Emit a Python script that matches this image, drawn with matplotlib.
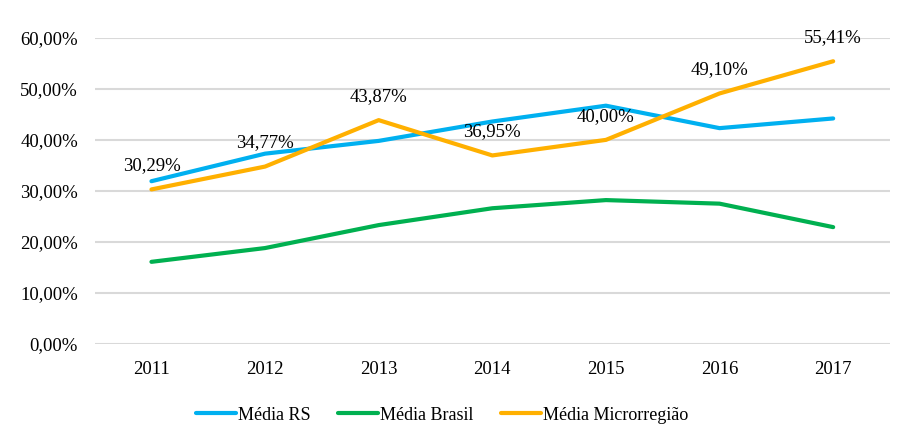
import matplotlib
matplotlib.use("Agg")
import matplotlib.pyplot as plt
from matplotlib.ticker import FuncFormatter

plt.rcParams["font.family"] = ["Liberation Serif", "DejaVu Serif"]

anos = ["2011", "2012", "2013", "2014", "2015", "2016", "2017"]
media_rs = [31.9, 37.3, 39.8, 43.6, 46.7, 42.3, 44.2]
media_brasil = [16.1, 18.8, 23.3, 26.6, 28.2, 27.5, 22.9]
media_micro = [30.29, 34.77, 43.87, 36.95, 40.00, 49.10, 55.41]

fig = plt.figure(figsize=(9.1, 4.45), dpi=100)
ax = fig.add_axes([0.104, 0.227, 0.874, 0.688])

x = range(len(anos))
ax.plot(x, media_rs, color="#00b0f0", lw=3, label="Média RS", solid_capstyle="round")
ax.plot(x, media_brasil, color="#00b050", lw=3, label="Média Brasil", solid_capstyle="round")
ax.plot(x, media_micro, color="#ffb000", lw=3, label="Média Microrregião", solid_capstyle="round")

# rótulos só na série da microrregião
for i, v in enumerate(media_micro):
    ax.annotate(f"{v:.2f}%".replace(".", ","), (i, v), xytext=(0, 17),
                textcoords="offset points", ha="center", va="center",
                fontsize=13.5, clip_on=False)

ax.set_xlim(-0.5, len(anos) - 0.5)
ax.set_ylim(0, 60)
ax.set_yticks(range(0, 61, 10))
ax.yaxis.set_major_formatter(FuncFormatter(lambda v, p: f"{v:.2f}%".replace(".", ",")))
ax.set_xticks(list(x))
ax.set_xticklabels(anos)
ax.tick_params(length=0, labelsize=13.5)
ax.tick_params(axis="x", pad=12)
ax.tick_params(axis="y", pad=12)
ax.grid(axis="y", color="#d9d9d9", lw=1.5)
ax.set_axisbelow(True)
for s in ax.spines.values():
    s.set_visible(False)

fig.legend(loc="center", bbox_to_anchor=(0.486, 0.067), ncol=3, frameon=False,
           fontsize=13, handlelength=2.2, handletextpad=0.15, columnspacing=1.5)

fig.savefig("out.png", dpi=100)
